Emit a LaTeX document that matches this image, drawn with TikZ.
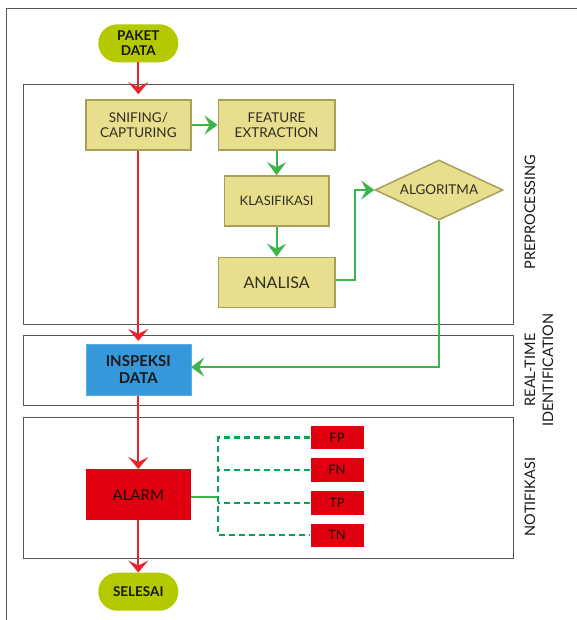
\documentclass[tikz,border=0pt]{standalone}
\usepackage{fontspec}
\setmainfont{Lato}
\usetikzlibrary{arrows.meta,shapes.geometric}
\definecolor{pillgreen}{HTML}{B5C900}
\definecolor{khaki}{HTML}{E8DF8E}
\definecolor{khakiborder}{HTML}{A8A05A}
\definecolor{bluebox}{HTML}{3498DB}
\definecolor{blueborder}{HTML}{5AAEE6}
\definecolor{redbox}{HTML}{E0000F}
\definecolor{redline}{HTML}{E8232B}
\definecolor{greenline}{HTML}{3DB54A}
\definecolor{dashgreen}{HTML}{00A651}
\definecolor{framecol}{HTML}{555555}
\definecolor{textdark}{HTML}{2E2E22}
\tikzset{
  pill/.style={rectangle, rounded corners=19pt, fill=pillgreen, minimum width=80pt, minimum height=38pt, inner sep=0pt, align=center, font=\bfseries\fontsize{13.5}{14.5}\selectfont, text=black!90},
  proc/.style={rectangle, fill=khaki, draw=khakiborder, line width=1.5pt, minimum height=50pt, inner sep=0pt, align=center, text=textdark, font=\fontsize{13.5}{15}\selectfont},
  decide/.style={diamond, fill=khaki, draw=khakiborder, line width=1.5pt, minimum width=128pt, minimum height=60pt, inner sep=0pt, aspect=2.1, text=textdark, font=\fontsize{13.5}{15}\selectfont},
  bluestep/.style={rectangle, fill=bluebox, draw=blueborder, line width=0.6pt, minimum width=105pt, minimum height=51pt, inner sep=0pt, align=center, font=\bfseries\fontsize{15}{16.5}\selectfont, text=black!90},
  redstep/.style={rectangle, fill=redbox, minimum width=105pt, minimum height=51pt, inner sep=0pt, align=center, font=\fontsize{15}{17}\selectfont, text=black!88!red},
  tag/.style={rectangle, fill=redbox, minimum width=53pt, minimum height=23.6pt, inner sep=0pt, font=\fontsize{13}{15}\selectfont, text=black!88!red},
  secbox/.style={draw=framecol, line width=1pt},
  seclabel/.style={rotate=90, align=center, text=black!90, font=\fontsize{14.5}{18}\selectfont},
  redarrow/.style={draw=redline, line width=2pt, -{Stealth[length=12pt, width=20pt, inset=5pt]}},
  greenarrow/.style={draw=greenline, line width=2pt, -{Stealth[length=13pt, width=19pt, inset=5pt]}},
  greenlink/.style={draw=greenline, line width=2pt},
  dashlink/.style={draw=dashgreen, line width=2.2pt, dash pattern=on 6pt off 4pt},
}
\begin{document}
\begin{tikzpicture}[x=1pt, y=-1pt]
\useasboundingbox (0,0) rectangle (577,620);
\fill[white] (0,0) rectangle (577,620);
% outer frame
\draw[framecol, line width=1.2pt] (6.6,620) -- (6.6,8.3) -- (577,8.3);
% section boxes
\draw[secbox] (23.9,84.7) rectangle (513,324);
\draw[secbox] (23.9,335) rectangle (513,405);
\draw[secbox] (23.9,417) rectangle (513,558);
% nodes
\node[pill] (paket) at (138.3,43.3) {PAKET\\DATA};
\node[proc, minimum width=105pt] (snif) at (138.3,125) {SNIFING/\\CAPTURING};
\node[proc, minimum width=116.6pt] (feat) at (276.6,125) {FEATURE\\EXTRACTION};
\node[proc, minimum width=104.6pt, font=\fontsize{13}{15}\selectfont] (klas) at (276.6,201) {KLASIFIKASI};
\node[proc, minimum width=116.6pt, font=\fontsize{16}{18}\selectfont] (ana) at (276.6,282.5) {ANALISA};
\node[decide] (alg) at (439,190) {ALGORITMA};
\node[bluestep] (insp) at (138.3,369.7) {INSPEKSI\\DATA};
\node[redstep] (alarm) at (138.3,494.7) {ALARM};
\node[pill] (selesai) at (138.3,591.7) {SELESAI};
\node[tag] (fp) at (337,437.5) {FP};
\node[tag] (fn) at (337,470) {FN};
\node[tag] (tp) at (337,503) {TP};
\node[tag] (tn) at (337,535.3) {TN};
\coordinate (bus) at (218.3,497.3);
% section labels
\node[seclabel] (lpre) at (530,212) {PREPROCESSING};
\node[seclabel] (lrt) at (539,370) {REAL-TIME\\IDENTIFICATION};
\node[seclabel] (lnot) at (530,497) {NOTIFIKASI};
% red flow
\draw[redarrow] (paket.south) -- ([yshift=5pt]snif.north);
\draw[redarrow] (snif.south) -- ([yshift=3pt]insp.north);
\draw[redarrow] (insp.south) -- (alarm.north);
\draw[redarrow] (alarm.south) -- (selesai.north);
% green flow
\draw[greenarrow] (snif.east) -- (feat.west);
\draw[greenarrow] (feat.south) -- (klas.north);
\draw[greenarrow] (klas.south) -- (ana.north);
\draw[greenarrow] ([yshift=2.5pt]ana.east) -- ++(19.5,0) |- (alg.west);
\draw[greenarrow] (alg.south) |- ([yshift=2.6pt]insp.east);
% alarm outcomes
\draw[greenlink] (alarm.east |- bus) -- (bus);
\draw[dashlink] (fp.west) -- (fp.west -| bus) -- (tn.west -| bus) -- (tn.west);
\draw[dashlink] (fn.west) -- (fn.west -| bus);
\draw[dashlink] (tp.west) -- (tp.west -| bus);
\end{tikzpicture}
\end{document}
